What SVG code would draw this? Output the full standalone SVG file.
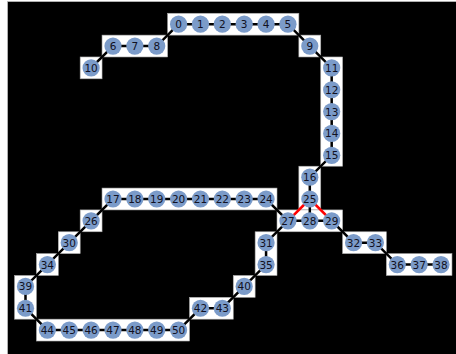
<svg xmlns="http://www.w3.org/2000/svg" width="456" height="354" viewBox="0 0 456 354">
<style>
.bg{fill:#000;stroke:#bbb;stroke-width:0.8}
.box{fill:#fff;stroke:#aaa;stroke-width:0.6}
.e{stroke:#000;stroke-width:2.5;fill:none}
.r{stroke:#f00;stroke-width:2.5;fill:none}
circle{fill:#7b9bc9}
text{font-family:"DejaVu Sans",sans-serif;font-size:10.5px;fill:#111122;text-anchor:middle;dominant-baseline:central}
</style>
<rect width="456" height="354" fill="#fff"/>
<rect class="bg" x="7.5" y="1.5" width="450" height="354"/>
<g id="boxes">
<rect class="box" x="167.65" y="13.27" width="131.22" height="21.85"/>
<rect class="box" x="102.04" y="35.12" width="65.61" height="21.85"/>
<rect class="box" x="80.17" y="56.97" width="21.87" height="21.85"/>
<rect class="box" x="298.87" y="35.12" width="21.87" height="21.85"/>
<rect class="box" x="320.74" y="56.97" width="21.87" height="109.25"/>
<rect class="box" x="298.87" y="166.22" width="21.87" height="43.7"/>
<rect class="box" x="102.04" y="188.07" width="174.96" height="21.85"/>
<rect class="box" x="277.0" y="209.92" width="65.61" height="21.85"/>
<rect class="box" x="80.17" y="209.92" width="21.87" height="21.85"/>
<rect class="box" x="58.3" y="231.77" width="21.87" height="21.85"/>
<rect class="box" x="255.13" y="231.77" width="21.87" height="43.7"/>
<rect class="box" x="342.61" y="231.77" width="43.74" height="21.85"/>
<rect class="box" x="36.43" y="253.62" width="21.87" height="21.85"/>
<rect class="box" x="386.35" y="253.62" width="65.61" height="21.85"/>
<rect class="box" x="14.56" y="275.47" width="21.87" height="43.7"/>
<rect class="box" x="233.26" y="275.47" width="21.87" height="21.85"/>
<rect class="box" x="189.52" y="297.32" width="43.74" height="21.85"/>
<rect class="box" x="36.43" y="319.17" width="153.09" height="21.85"/>
</g>
<g id="connectors">
<path class="e" d="M178.59,24.2H287.94L309.81,46.05L331.68,67.9V155.3L309.81,177.15V220.85"/>
<path class="e" d="M178.59,24.2L156.72,46.05H112.98L91.11,67.9"/>
<path class="e" d="M287.94,220.85H331.68L353.55,242.7H375.42L397.29,264.55H441.03"/>
<path class="e" d="M287.94,220.85L266.07,199H112.98L91.11,220.85L25.5,286.4V308.25L47.37,330.1H178.59L200.46,308.25H222.33L244.2,286.4L266.07,264.55V242.7L287.94,220.85"/>
<path class="r" d="M309.81,199L287.94,220.85M309.81,199L331.68,220.85"/>
</g>
<g id="n0"><circle cx="178.59" cy="24.2" r="8.6"/><text x="178.59" y="24.2">0</text></g>
<g id="n1"><circle cx="200.46" cy="24.2" r="8.6"/><text x="200.46" y="24.2">1</text></g>
<g id="n2"><circle cx="222.33" cy="24.2" r="8.6"/><text x="222.33" y="24.2">2</text></g>
<g id="n3"><circle cx="244.2" cy="24.2" r="8.6"/><text x="244.2" y="24.2">3</text></g>
<g id="n4"><circle cx="266.07" cy="24.2" r="8.6"/><text x="266.07" y="24.2">4</text></g>
<g id="n5"><circle cx="287.94" cy="24.2" r="8.6"/><text x="287.94" y="24.2">5</text></g>
<g id="n6"><circle cx="112.98" cy="46.05" r="8.6"/><text x="112.98" y="46.05">6</text></g>
<g id="n7"><circle cx="134.85" cy="46.05" r="8.6"/><text x="134.85" y="46.05">7</text></g>
<g id="n8"><circle cx="156.72" cy="46.05" r="8.6"/><text x="156.72" y="46.05">8</text></g>
<g id="n9"><circle cx="309.81" cy="46.05" r="8.6"/><text x="309.81" y="46.05">9</text></g>
<g id="n10"><circle cx="91.11" cy="67.9" r="8.6"/><text x="91.11" y="67.9">10</text></g>
<g id="n11"><circle cx="331.68" cy="67.9" r="8.6"/><text x="331.68" y="67.9">11</text></g>
<g id="n12"><circle cx="331.68" cy="89.75" r="8.6"/><text x="331.68" y="89.75">12</text></g>
<g id="n13"><circle cx="331.68" cy="111.6" r="8.6"/><text x="331.68" y="111.6">13</text></g>
<g id="n14"><circle cx="331.68" cy="133.45" r="8.6"/><text x="331.68" y="133.45">14</text></g>
<g id="n15"><circle cx="331.68" cy="155.3" r="8.6"/><text x="331.68" y="155.3">15</text></g>
<g id="n16"><circle cx="309.81" cy="177.15" r="8.6"/><text x="309.81" y="177.15">16</text></g>
<g id="n17"><circle cx="112.98" cy="199" r="8.6"/><text x="112.98" y="199">17</text></g>
<g id="n18"><circle cx="134.85" cy="199" r="8.6"/><text x="134.85" y="199">18</text></g>
<g id="n19"><circle cx="156.72" cy="199" r="8.6"/><text x="156.72" y="199">19</text></g>
<g id="n20"><circle cx="178.59" cy="199" r="8.6"/><text x="178.59" y="199">20</text></g>
<g id="n21"><circle cx="200.46" cy="199" r="8.6"/><text x="200.46" y="199">21</text></g>
<g id="n22"><circle cx="222.33" cy="199" r="8.6"/><text x="222.33" y="199">22</text></g>
<g id="n23"><circle cx="244.2" cy="199" r="8.6"/><text x="244.2" y="199">23</text></g>
<g id="n24"><circle cx="266.07" cy="199" r="8.6"/><text x="266.07" y="199">24</text></g>
<g id="n25"><circle cx="309.81" cy="199" r="8.6"/><text x="309.81" y="199">25</text></g>
<g id="n26"><circle cx="91.11" cy="220.85" r="8.6"/><text x="91.11" y="220.85">26</text></g>
<g id="n27"><circle cx="287.94" cy="220.85" r="8.6"/><text x="287.94" y="220.85">27</text></g>
<g id="n28"><circle cx="309.81" cy="220.85" r="8.6"/><text x="309.81" y="220.85">28</text></g>
<g id="n29"><circle cx="331.68" cy="220.85" r="8.6"/><text x="331.68" y="220.85">29</text></g>
<g id="n30"><circle cx="69.24" cy="242.7" r="8.6"/><text x="69.24" y="242.7">30</text></g>
<g id="n31"><circle cx="266.07" cy="242.7" r="8.6"/><text x="266.07" y="242.7">31</text></g>
<g id="n32"><circle cx="353.55" cy="242.7" r="8.6"/><text x="353.55" y="242.7">32</text></g>
<g id="n33"><circle cx="375.42" cy="242.7" r="8.6"/><text x="375.42" y="242.7">33</text></g>
<g id="n34"><circle cx="47.37" cy="264.55" r="8.6"/><text x="47.37" y="264.55">34</text></g>
<g id="n35"><circle cx="266.07" cy="264.55" r="8.6"/><text x="266.07" y="264.55">35</text></g>
<g id="n36"><circle cx="397.29" cy="264.55" r="8.6"/><text x="397.29" y="264.55">36</text></g>
<g id="n37"><circle cx="419.16" cy="264.55" r="8.6"/><text x="419.16" y="264.55">37</text></g>
<g id="n38"><circle cx="441.03" cy="264.55" r="8.6"/><text x="441.03" y="264.55">38</text></g>
<g id="n39"><circle cx="25.5" cy="286.4" r="8.6"/><text x="25.5" y="286.4">39</text></g>
<g id="n40"><circle cx="244.2" cy="286.4" r="8.6"/><text x="244.2" y="286.4">40</text></g>
<g id="n41"><circle cx="25.5" cy="308.25" r="8.6"/><text x="25.5" y="308.25">41</text></g>
<g id="n42"><circle cx="200.46" cy="308.25" r="8.6"/><text x="200.46" y="308.25">42</text></g>
<g id="n43"><circle cx="222.33" cy="308.25" r="8.6"/><text x="222.33" y="308.25">43</text></g>
<g id="n44"><circle cx="47.37" cy="330.1" r="8.6"/><text x="47.37" y="330.1">44</text></g>
<g id="n45"><circle cx="69.24" cy="330.1" r="8.6"/><text x="69.24" y="330.1">45</text></g>
<g id="n46"><circle cx="91.11" cy="330.1" r="8.6"/><text x="91.11" y="330.1">46</text></g>
<g id="n47"><circle cx="112.98" cy="330.1" r="8.6"/><text x="112.98" y="330.1">47</text></g>
<g id="n48"><circle cx="134.85" cy="330.1" r="8.6"/><text x="134.85" y="330.1">48</text></g>
<g id="n49"><circle cx="156.72" cy="330.1" r="8.6"/><text x="156.72" y="330.1">49</text></g>
<g id="n50"><circle cx="178.59" cy="330.1" r="8.6"/><text x="178.59" y="330.1">50</text></g>
</svg>
